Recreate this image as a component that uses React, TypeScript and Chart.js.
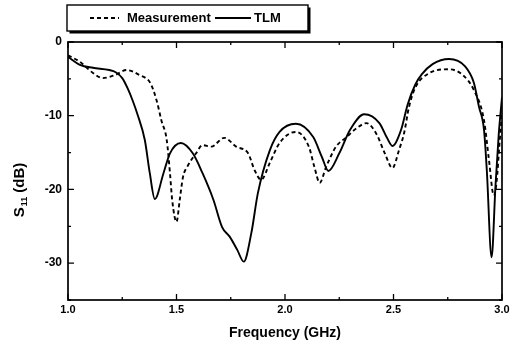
import React, { useEffect, useRef } from 'react';
import { Chart, registerables } from 'chart.js';

Chart.register(...registerables);

const xTickValues = [1.0, 1.5, 2.0, 2.5, 3.0];
const xMinorValues = [1.25, 1.75, 2.25, 2.75];
const yTickValues = [0, -10, -20, -30];
const yMinorValues = [-5, -15, -25, -35];

const tlmFreq = [
  1.0, 1.055, 1.115, 1.19, 1.22, 1.25, 1.275, 1.3, 1.32, 1.354, 1.377, 1.4, 1.44, 1.47, 1.52,
  1.575, 1.62, 1.67, 1.71, 1.745, 1.78, 1.81, 1.845, 1.875, 1.93, 1.975, 2.05, 2.13,
  2.17, 2.2, 2.25, 2.3, 2.365, 2.435, 2.47, 2.495, 2.535, 2.565, 2.6, 2.63, 2.68, 2.756,
  2.83, 2.87, 2.894, 2.917, 2.93, 2.952, 2.97, 2.985, 3.0,
];
const tlmS11 = [
  -2.0, -3.1, -3.5, -3.8, -4.1, -4.9, -6.3, -8.1, -9.8, -13.3, -17.8, -21.3, -17.8, -15.1, -13.7,
  -15.1, -17.8, -21.4, -25.1, -26.4, -28.2, -29.8, -25.9, -20.5, -14.7, -12.2, -11.1, -12.9,
  -15.6, -17.5, -15.1, -11.9, -9.8, -11.0, -13.0, -14.1, -11.9, -8.5, -5.8, -4.4, -3.0, -2.3,
  -3.3, -5.5, -8.8, -11.9, -17.4, -29.2, -19.5, -12.5, -7.5,
];

const measFreq = [
  1.0, 1.055, 1.115, 1.16, 1.215, 1.27, 1.33, 1.38, 1.41, 1.43, 1.455, 1.47, 1.48, 1.5,
  1.515, 1.53, 1.55, 1.59, 1.62, 1.66, 1.72, 1.775, 1.83, 1.86, 1.89, 1.93, 1.975, 2.05,
  2.11, 2.135, 2.16, 2.19, 2.235, 2.28, 2.33, 2.375, 2.42, 2.46, 2.495, 2.525, 2.55, 2.57,
  2.6, 2.66, 2.756, 2.82, 2.87, 2.917, 2.94, 2.962, 2.975, 2.988, 3.0,
];
const measS11 = [
  -1.8, -2.7, -4.2, -4.9, -4.5, -3.8, -4.5, -5.6, -8.1, -10.6, -13.3, -17.8, -21.4, -24.4,
  -21.4, -18.3, -16.9, -15.1, -14.0, -14.2, -13.0, -14.2, -15.1, -17.4, -18.7, -16.4, -13.7, -12.2,
  -14.2, -16.9, -19.1, -16.9, -14.2, -13.0, -11.7, -11.0, -12.4, -15.1, -17.1, -14.7, -12.2, -9.0,
  -6.2, -4.3, -3.7, -4.5, -6.5, -10.6, -16.0, -20.8, -19.0, -14.0, -9.5,
];

const FONT = "'Liberation Sans', Arial, Helvetica, sans-serif";

const toPoints = (xs: number[], ys: number[]) => xs.map((x, i) => ({ x, y: ys[i] }));

const decorPlugin = {
  id: 'decor',
  afterDraw(chart: any) {
    const ctx = chart.ctx as CanvasRenderingContext2D;
    const { left, right, top, bottom } = chart.chartArea;
    const xs = chart.scales.x;
    const ys = chart.scales.y;
    ctx.save();
    ctx.strokeStyle = '#000';
    ctx.fillStyle = '#000';
    ctx.lineWidth = 1.7;
    ctx.strokeRect(left, top, right - left, bottom - top);
    ctx.lineWidth = 1.3;
    const drawX = (vals: number[], len: number) => {
      vals.forEach((v) => {
        const px = xs.getPixelForValue(v);
        ctx.beginPath();
        ctx.moveTo(px, bottom);
        ctx.lineTo(px, bottom - len);
        ctx.moveTo(px, top);
        ctx.lineTo(px, top + len);
        ctx.stroke();
      });
    };
    const drawY = (vals: number[], len: number) => {
      vals.forEach((v) => {
        const py = ys.getPixelForValue(v);
        ctx.beginPath();
        ctx.moveTo(left, py);
        ctx.lineTo(left + len, py);
        ctx.moveTo(right, py);
        ctx.lineTo(right - len, py);
        ctx.stroke();
      });
    };
    drawX(xTickValues, 6);
    drawX(xMinorValues, 3);
    drawY(yTickValues, 6);
    drawY(yMinorValues, 3);

    ctx.font = `bold 14px ${FONT}`;
    ctx.textAlign = 'center';
    ctx.textBaseline = 'middle';
    ctx.fillText('Frequency (GHz)', (left + right) / 2, 333);

    ctx.save();
    ctx.translate(19, 190);
    ctx.rotate(-Math.PI / 2);
    ctx.textBaseline = 'alphabetic';
    ctx.textAlign = 'left';
    const big = `bold 15px ${FONT}`;
    const small = `bold 9px ${FONT}`;
    ctx.font = big;
    const wS = ctx.measureText('S').width;
    ctx.font = small;
    const w11 = ctx.measureText('11').width;
    ctx.font = big;
    const wRest = ctx.measureText(' (dB)').width;
    const total = wS + 1 + w11 + wRest;
    let cx = -total / 2;
    const base = 5;
    ctx.font = big;
    ctx.fillText('S', cx, base);
    cx += wS + 1;
    ctx.font = small;
    ctx.fillText('11', cx, base + 3);
    cx += w11;
    ctx.font = big;
    ctx.fillText(' (dB)', cx, base);
    ctx.restore();

    const bx = 67, by = 5, bw = 241, bh = 26;
    ctx.fillStyle = '#000';
    ctx.fillRect(bx + 2.5, by + 2.5, bw, bh);
    ctx.fillStyle = '#fff';
    ctx.fillRect(bx, by, bw, bh);
    ctx.lineWidth = 1.4;
    ctx.strokeStyle = '#000';
    ctx.strokeRect(bx, by, bw, bh);
    const ly = 18;
    ctx.lineWidth = 1.8;
    ctx.setLineDash([4, 3]);
    ctx.beginPath();
    ctx.moveTo(90, ly);
    ctx.lineTo(119, ly);
    ctx.stroke();
    ctx.setLineDash([]);
    ctx.beginPath();
    ctx.moveTo(215, ly);
    ctx.lineTo(251, ly);
    ctx.stroke();
    ctx.fillStyle = '#000';
    ctx.font = `bold 13px ${FONT}`;
    ctx.textAlign = 'left';
    ctx.textBaseline = 'middle';
    ctx.fillText('Measurement', 127, ly);
    ctx.fillText('TLM', 254, ly);
    ctx.restore();
  },
};

export default function App() {
  const ref = useRef<HTMLCanvasElement | null>(null);
  useEffect(() => {
    if (!ref.current) return;
    const chart = new Chart(ref.current, {
      type: 'line',
      data: {
        datasets: [
          {
            label: 'Measurement',
            data: toPoints(measFreq, measS11),
            borderColor: '#000',
            borderWidth: 1.9,
            borderDash: [4, 3],
            pointRadius: 0,
            fill: false,
            cubicInterpolationMode: 'monotone',
          },
          {
            label: 'TLM',
            data: toPoints(tlmFreq, tlmS11),
            borderColor: '#000',
            borderWidth: 1.9,
            pointRadius: 0,
            fill: false,
            cubicInterpolationMode: 'monotone',
          },
        ],
      },
      options: {
        responsive: false,
        animation: false,
        layout: { padding: { top: 42, right: 12, left: 0, bottom: 0 } },
        plugins: { legend: { display: false }, tooltip: { enabled: false }, title: { display: false } },
        scales: {
          x: {
            type: 'linear',
            min: 1,
            max: 3,
            grid: { display: false, drawTicks: false },
            border: { display: false },
            afterBuildTicks: (s: any) => {
              s.ticks = xTickValues.map((v) => ({ value: v }));
            },
            afterFit: (s: any) => {
              s.height = 45;
            },
            ticks: {
              padding: 3,
              maxRotation: 0,
              autoSkip: false,
              color: '#000',
              font: { family: FONT, size: 11, weight: 'bold' },
              callback: (v: any) => Number(v).toFixed(1),
            },
          },
          y: {
            type: 'linear',
            min: -35,
            max: 0,
            grid: { display: false, drawTicks: false },
            border: { display: false },
            afterBuildTicks: (s: any) => {
              s.ticks = yTickValues.map((v) => ({ value: v }));
            },
            afterFit: (s: any) => {
              s.width = 68;
            },
            ticks: {
              padding: 6,
              color: '#000',
              font: { family: FONT, size: 12, weight: 'bold' },
              callback: (v: any) => String(v),
            },
          },
        },
      },
      plugins: [decorPlugin],
    } as any);
    return () => chart.destroy();
  }, []);
  return (
    <div style={{ position: 'absolute', left: 0, top: 0, width: 514, height: 345, background: '#fff' }}>
      <canvas ref={ref} width={514} height={345} style={{ display: 'block' }} />
    </div>
  );
}
